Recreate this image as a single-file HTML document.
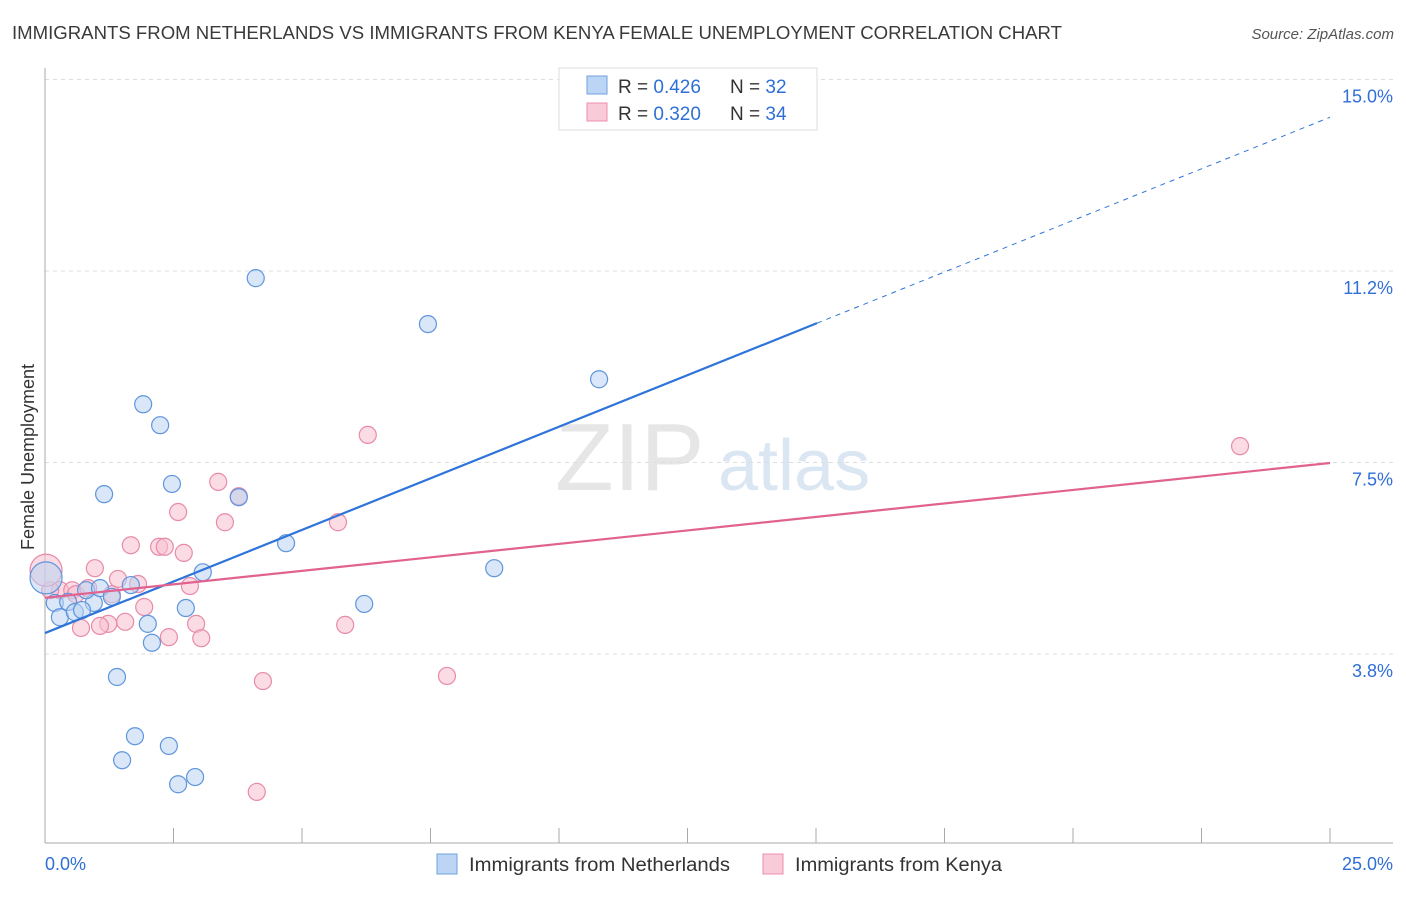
<!DOCTYPE html>
<html><head><meta charset="utf-8"><style>
body{margin:0;background:#fff;font-family:"Liberation Sans",sans-serif;}
svg text{font-family:"Liberation Sans",sans-serif;}
</style></head><body>
<svg id="chart" width="1406" height="892">
<text x="12" y="39" font-size="18" fill="#3a3a3a" textLength="1050" lengthAdjust="spacingAndGlyphs">IMMIGRANTS FROM NETHERLANDS VS IMMIGRANTS FROM KENYA FEMALE UNEMPLOYMENT CORRELATION CHART</text>
<text x="1394" y="39" font-size="15" fill="#555" text-anchor="end" font-style="italic">Source: ZipAtlas.com</text>
<text x="555" y="490" font-size="96" fill="#e6e6e6" font-family="Liberation Serif">ZIP</text>
<text x="718" y="490" font-size="72" fill="#dbe6f3">atlas</text>
<text transform="translate(34,457) rotate(-90)" font-size="18" fill="#333" text-anchor="middle">Female Unemployment</text>
<g id="grid"></g><g id="marks"></g><g id="lines"></g>
<g>
<rect x="559" y="68" width="258" height="62" fill="#fff" stroke="#ddd"/>
<rect x="587" y="76" width="20" height="18" fill="#bcd5f5" stroke="#6fa0e0"/>
<rect x="587" y="103" width="20" height="18" fill="#f9cad8" stroke="#ea90ad"/>
<text x="618" y="93" font-size="19" fill="#333">R = <tspan fill="#2f6fd6">0.426</tspan></text>
<text x="730" y="93" font-size="19" fill="#333">N = <tspan fill="#2f6fd6">32</tspan></text>
<text x="618" y="120" font-size="19" fill="#333">R = <tspan fill="#2f6fd6">0.320</tspan></text>
<text x="730" y="120" font-size="19" fill="#333">N = <tspan fill="#2f6fd6">34</tspan></text>
</g>
<g>
<rect x="437" y="854" width="20" height="20" fill="#bcd5f5" stroke="#6fa0e0"/>
<text x="469" y="871" font-size="19" fill="#333" textLength="261" lengthAdjust="spacingAndGlyphs">Immigrants from Netherlands</text>
<rect x="763" y="854" width="20" height="20" fill="#f9cad8" stroke="#ea90ad"/>
<text x="795" y="871" font-size="19" fill="#333" textLength="207" lengthAdjust="spacingAndGlyphs">Immigrants from Kenya</text>
</g>
<text x="45" y="870" font-size="18" fill="#2f6fd6">0.0%</text>
<text x="1393" y="870" font-size="18" fill="#2f6fd6" text-anchor="end">25.0%</text>
</svg>
<script>
const yTicks=[15,11.25,7.5,3.75];
const yTickLabels=["15.0%","11.2%","7.5%","3.8%"];
const nethX=[4.10,7.45,10.78,1.91,2.24,1.15,2.47,3.77,4.69,8.74,3.07,6.21,2.74,2.00,2.08,1.40,1.75,2.41,1.50,2.59,2.92,0.19,0.45,0.29,0.58,0.95,0.80,1.07,1.30,1.67,0.02,0.72];
const nethY=[11.11,10.21,9.13,8.64,8.23,6.88,7.08,6.82,5.92,5.43,5.35,4.73,4.65,4.34,3.97,3.30,2.14,1.95,1.67,1.20,1.34,4.75,4.77,4.47,4.57,4.75,5.00,5.04,4.87,5.10,5.24,4.61];
const kenX=[23.25,6.28,3.37,3.77,2.59,3.50,5.70,1.67,2.22,2.33,2.70,0.97,1.42,1.81,2.82,1.93,1.23,1.07,0.70,1.56,2.41,2.94,3.04,5.84,4.24,7.82,4.12,0.29,0.53,0.60,0.84,1.30,0.10,0.02];
const kenY=[7.82,8.04,7.12,6.84,6.53,6.33,6.33,5.88,5.85,5.85,5.73,5.43,5.22,5.12,5.08,4.67,4.34,4.30,4.26,4.38,4.08,4.34,4.06,4.32,3.22,3.32,1.05,5.00,5.00,4.92,5.04,4.92,5.00,5.39];
const nethTrend=[4.16,14.26];
const kenTrend=[4.85,7.49];
const X=v=>45+v*51.4, Y=v=>654-(v-3.75)*51.07;
const NS="http://www.w3.org/2000/svg";
function mk(tag,attrs,parent){const e=document.createElementNS(NS,tag);for(const k in attrs)e.setAttribute(k,attrs[k]);document.getElementById(parent).appendChild(e);return e;}
yTicks.forEach((t,i)=>{
 const l=mk('line',{x1:45,x2:1393,y1:Y(t),y2:Y(t),stroke:'#ddd','stroke-dasharray':'4,4'},'grid');
 
 
 const tx=mk('text',{x:1393,y:Y(t)+23,'font-size':18,fill:'#2f6fd6','text-anchor':'end'},'grid');
 tx.textContent=yTickLabels[i];
 
 
});
const ax=mk('line',{x1:45,x2:45,y1:68,y2:843,stroke:'#aaa'},'grid');


const bx=mk('line',{x1:45,x2:1393,y1:843,y2:843,stroke:'#aaa'},'grid');


for(let i=0;i<=10;i++){
 const tk=mk('line',{x1:X(i*2.5),x2:X(i*2.5),y1:828,y2:843,stroke:'#aaa'},'grid');
 
 
}
function pts(xs,ys,fill,stroke,name,bigIdx){
 xs.forEach((x,i)=>{
  const c=mk('circle',{cx:X(x),cy:Y(ys[i]),r:i===bigIdx?16:8.5,fill:fill,'fill-opacity':0.55,stroke:stroke,'stroke-width':1.2},'marks');
  
  
 });
}
pts(kenX,kenY,'#f7bfd0','#e88aa8','kenya-point',33);
pts(nethX,nethY,'#b9d3f3','#5f95dc','netherlands-point',30);
const b1=mk('line',{x1:X(0),y1:Y(nethTrend[0]),x2:X(15.02),y2:Y(nethTrend[0]+(nethTrend[1]-nethTrend[0])*15.02/25),stroke:'#2f74d8','stroke-width':2.2},'lines');


const b2=mk('line',{x1:X(15.02),y1:Y(nethTrend[0]+(nethTrend[1]-nethTrend[0])*15.02/25),x2:X(25),y2:Y(nethTrend[1]),stroke:'#2f74d8','stroke-width':1,'stroke-dasharray':'5,5'},'lines');


const p1=mk('line',{x1:X(0),y1:Y(kenTrend[0]),x2:X(25),y2:Y(kenTrend[1]),stroke:'#e2628f','stroke-width':2.2},'lines');


</script>
</body></html>
